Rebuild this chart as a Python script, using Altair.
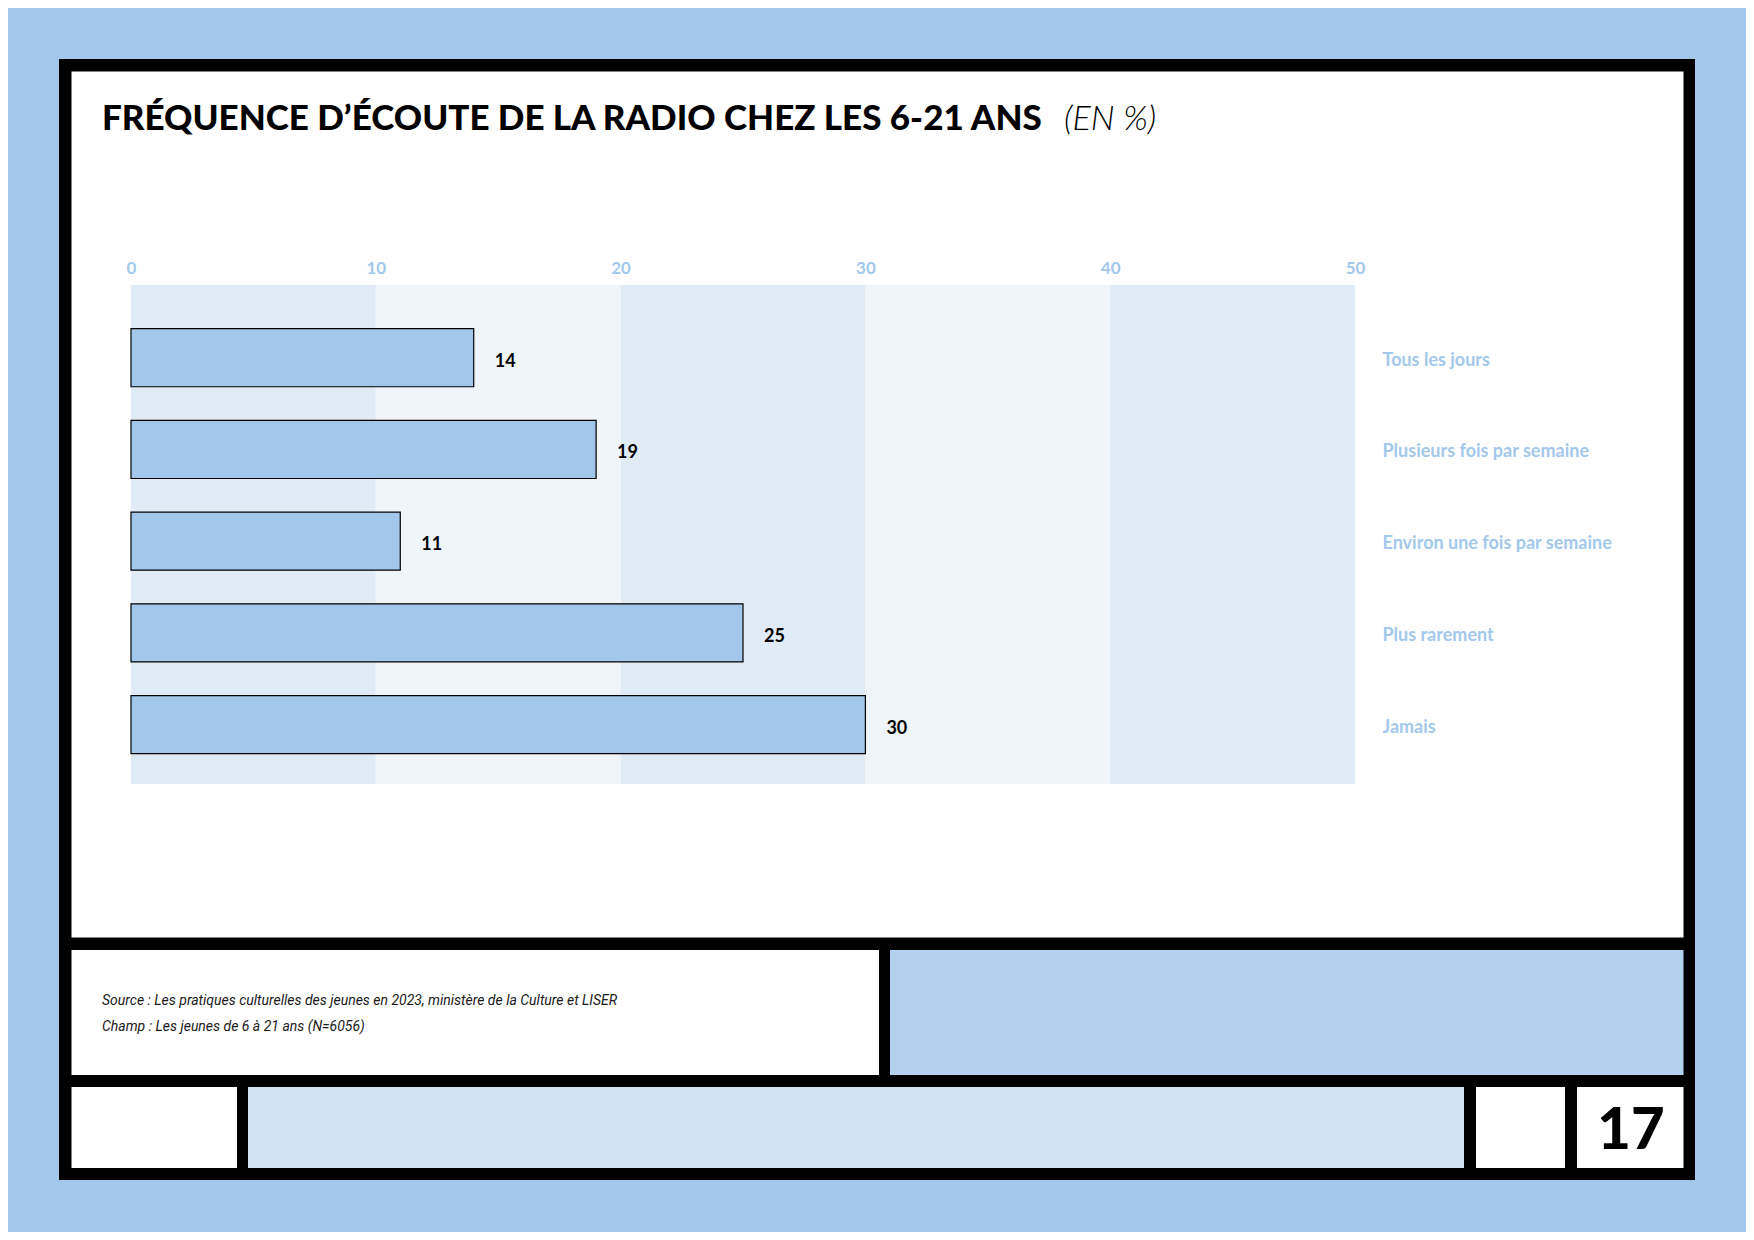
import altair as alt
import pandas as pd

# ---------------- data ----------------
categories = [
    "Tous les jours",
    "Plusieurs fois par semaine",
    "Environ une fois par semaine",
    "Plus rarement",
    "Jamais",
]
values = [14, 19, 11, 25, 30]
x_ticks = [0, 10, 20, 30, 40, 50]
band_starts = [0, 10, 20, 30, 40]
band_ends = [10, 20, 30, 40, 50]
band_shades = ["dark", "light", "dark", "light", "dark"]

title_main = "FRÉQUENCE D’ÉCOUTE DE LA RADIO CHEZ LES 6-21 ANS"
title_unit = "(EN %)"
source_lines = [
    "Source : Les pratiques culturelles des jeunes en 2023, ministère de la Culture et LISER",
    "Champ : Les jeunes de 6 à 21 ans (N=6056)",
]
page_number = "17"

# ---------------- styling ----------------
W, H = 1224, 499
PAGE_BG = "#a2c7ea"
BAR_FILL = "#a2c7ea"
LABEL_BLUE = "#a3c8eb"
BAND_DARK = "#e1ebf6"
BAND_LIGHT = "#f0f5fa"
PANEL_BLUE = "#b3d1ee"
DOTTED_BLUE = "#d2e3f5"

df = pd.DataFrame({"cat": categories, "val": values})
bands = pd.DataFrame({"start": band_starts, "end": band_ends, "shade": band_shades})
one = alt.Data(values=[{"k": 0}])

xscale = alt.Scale(domain=[0, 50], nice=False, zero=True)
yscale = alt.Scale(domain=categories, paddingInner=0.367, paddingOuter=0.404, align=0.59)

xaxis = alt.Axis(
    orient="top", values=x_ticks, title=None, domain=False, ticks=False, grid=False,
    labelColor=LABEL_BLUE, labelFont="Lato", labelFontWeight="bold", labelFontSize=17,
    labelPadding=8, labelFlush=False, format="d", zindex=2,
)
yaxis = alt.Axis(
    orient="right", title=None, domain=False, ticks=False, grid=False,
    labelColor=LABEL_BLUE, labelFont="Lato", labelFontWeight="bold", labelFontSize=18,
    labelPadding=27, labelAlign="left", labelLimit=400, labelOffset=3, zindex=2,
)


def box(x, x2, y, y2, color):
    return alt.Chart(one).mark_rect(color=color, strokeWidth=0).encode(
        x=alt.value(x), x2=alt.value(x2), y=alt.value(y), y2=alt.value(y2)
    )


def label(text, x, y, **kw):
    return alt.Chart(one).mark_text(**kw).encode(
        x=alt.value(x), y=alt.value(y), text=alt.value(text)
    )


# decorative frame (pixel positions relative to plot origin)
frame = box(-72, 1564, -226, 895, "#000000")
top_panel = box(-59.5, 1552.5, -213.5, 652.5, "#ffffff")
source_panel = box(-59.5, 748, 665, 790, "#ffffff")
blue_panel = box(759, 1552.5, 665, 790, PANEL_BLUE)
foot1 = box(-59.5, 106, 802, 883, "#ffffff")
foot_dotted = box(117, 1333, 802, 883, DOTTED_BLUE)
foot2 = box(1345, 1434, 802, 883, "#ffffff")
foot3 = box(1446, 1552.5, 802, 883, "#ffffff")

band_layer = alt.Chart(bands).mark_rect(strokeWidth=0).encode(
    x=alt.X("start:Q", scale=xscale, axis=xaxis),
    x2="end:Q",
    y=alt.value(0),
    y2=alt.value(H),
    color=alt.Color(
        "shade:N",
        scale=alt.Scale(domain=["dark", "light"], range=[BAND_DARK, BAND_LIGHT]),
        legend=None,
    ),
)

bars = alt.Chart(df).mark_bar(fill=BAR_FILL, stroke="#000000", strokeWidth=1.2).encode(
    x=alt.X("val:Q", scale=xscale, axis=xaxis),
    y=alt.Y("cat:N", scale=yscale, sort=categories, axis=yaxis),
)

bar_labels = alt.Chart(df).mark_text(
    align="left", baseline="middle", dx=21, dy=4, font="Lato", fontWeight="bold",
    fontSize=18, color="#000000",
).encode(
    x=alt.X("val:Q", scale=xscale, axis=xaxis),
    y=alt.Y("cat:N", scale=yscale, sort=categories, axis=yaxis),
    text="val:Q",
)

title1 = label(title_main, -29, -155, align="left", baseline="alphabetic", font="Lato",
               fontWeight=900, fontSize=35, color="#000000")
title2 = label(title_unit, 933, -155, align="left", baseline="alphabetic", font="Lato",
               fontWeight=300, fontStyle="italic", fontSize=34, color="#000000")
source = alt.Chart(one).mark_text(
    text=source_lines, align="left", baseline="middle", lineHeight=26,
    font="Roboto", fontStyle="italic", fontSize=14, color="#1a1a1a",
).encode(x=alt.value(-29), y=alt.value(716))
page = label(page_number, 1500, 847, align="center", baseline="middle", font="Lato",
             fontWeight=900, fontSize=58, color="#000000")

chart = alt.layer(
    frame, top_panel, source_panel, blue_panel, foot1, foot_dotted, foot2, foot3,
    band_layer, bars, bar_labels, title1, title2, source, page,
).properties(
    width=W,
    height=H,
    background=PAGE_BG,
    padding={"left": 123, "top": 277, "right": 391, "bottom": 448},
    autosize=alt.AutoSizeParams(type="none"),
).configure_view(stroke=None)

chart.save("out.html", embed_options={"renderer": "svg", "actions": False})
